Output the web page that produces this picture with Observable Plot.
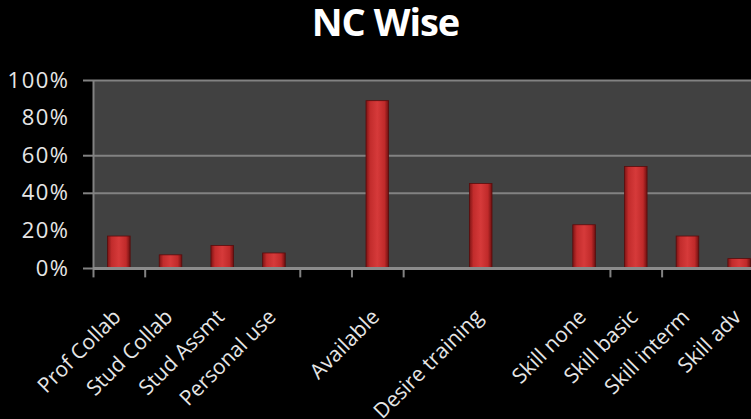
<!DOCTYPE html>
<html>
<head>
<meta charset="utf-8">
<script src="https://cdn.jsdelivr.net/npm/d3@7"></script>
<script src="https://cdn.jsdelivr.net/npm/@observablehq/plot@0.6"></script>
<style>
  html, body { margin: 0; padding: 0; background: #000; }
  #chart { width: 751px; height: 419px; overflow: hidden; background: #000; }
  #title {
    height: 50px; margin: 0; padding-top: 1px; box-sizing: border-box;
    font-family: "Open Sans", sans-serif; font-weight: 700; font-size: 38px;
    line-height: 40px; letter-spacing: -1px; color: #fff; text-align: center;
    padding-left: 20px; overflow: visible;
  }
  svg { display: block; }
  svg g[aria-label="y-axis tick label"] text { letter-spacing: 1.5px; }
</style>
</head>
<body>
<div id="chart">
  <div id="title">NC Wise</div>
</div>
<script>
// Survey categories (empty strings are spacer slots between groups)
const categories = [
  "Prof Collab", "Stud Collab", "Stud Assmt", "Personal use", "",
  "Available", "", "Desire training", "",
  "Skill none", "Skill basic", "Skill interm", "Skill adv"
];
// Share of respondents per category
const values = [0.17, 0.07, 0.12, 0.08, null, 0.89, null, 0.45, null, 0.23, 0.54, 0.17, 0.05];
// Value axis labels and the guide lines drawn across the plot
const yTickLabels = [0, 0.2, 0.4, 0.6, 0.8, 1.0];
const yGuideLines = [0.4, 0.6, 1.0];
const yTickMarks = [0, 0.4, 0.6, 1.0];
// Category boundaries that carry a tick mark below the baseline
const xBoundaryTicks = [1, 4, 5, 6, 10, 11];

const rows = categories.map((label, i) => ({i, label, value: values[i]}));
const bars = rows.filter(d => d.value != null);

const x0 = 93, x1 = 765;
const halfStep = (x1 - x0) / categories.length / 2;
const grey = "#828282";

const plot = Plot.plot({
  width: 751,
  height: 369,
  marginTop: 30,
  marginBottom: 151,
  marginLeft: 93,
  marginRight: 0,
  style: {background: "#000", fontFamily: "Open Sans, sans-serif", color: "#e6e6e6"},
  x: {type: "band", domain: d3.range(categories.length), range: [x0, x1], round: false,
      paddingInner: 0.563, paddingOuter: 0.2815, axis: null},
  y: {domain: [0, 1], axis: null, label: null},
  marks: [
    Plot.frame({fill: "#414141", stroke: null}),
    Plot.gridY(yGuideLines, {stroke: grey, strokeOpacity: 1, strokeWidth: 2}),
    Plot.axisY(yTickMarks, {tickSize: 10, text: null, label: null, stroke: grey, strokeWidth: 2}),
    Plot.axisY(yTickLabels, {tickSize: 0, tickPadding: 24, label: null, tickFormat: d3.format(".0%"),
      fontSize: 22, fill: "#e6e6e6"}),
    // left axis line plus its tick below the baseline
    Plot.ruleX([0], {x: d => d, y1: -0.05, y2: 1, dx: -halfStep, stroke: grey, strokeWidth: 2}),
    Plot.ruleX(xBoundaryTicks, {x: d => d, y1: 0, y2: -0.05, dx: -halfStep, stroke: grey, strokeWidth: 2}),
    Plot.barY(bars, {x: "i", y: "value", fill: "url(#barGrad)", stroke: "#5a0c0c", strokeWidth: 0.8}),
    Plot.tickY(bars, {x: "i", y: "value", dy: 3, stroke: "url(#capGrad)", strokeWidth: 5, insetLeft: 1, insetRight: 1}),
    Plot.ruleY([0], {stroke: "#8c8c8c", strokeWidth: 3}),
    Plot.text(rows, {x: "i", text: "label", frameAnchor: "bottom", rotate: -45,
      textAnchor: "end", lineAnchor: "middle", dx: -2, dy: 45, fontSize: 21, fill: "#e6e6e6"})
  ]
});

// Cylinder-like shading for the bars
const ns = "http://www.w3.org/2000/svg";
const defs = document.createElementNS(ns, "defs");
function gradient(id, stops) {
  const g = document.createElementNS(ns, "linearGradient");
  g.setAttribute("id", id);
  g.setAttribute("x1", "0"); g.setAttribute("x2", "1");
  g.setAttribute("y1", "0"); g.setAttribute("y2", "0");
  for (const [o, c] of stops) {
    const s = document.createElementNS(ns, "stop");
    s.setAttribute("offset", o);
    s.setAttribute("stop-color", c);
    g.appendChild(s);
  }
  defs.appendChild(g);
}
gradient("barGrad", [[0, "#7e1414"], [0.18, "#c22c2c"], [0.5, "#d63a3a"], [0.82, "#c02a2a"], [1, "#6e1010"]]);
gradient("capGrad", [[0, "#b03030"], [0.3, "#ea7a7a"], [0.5, "#f29090"], [0.7, "#ea7a7a"], [1, "#b03030"]]);
plot.insertBefore(defs, plot.firstChild);

document.getElementById("chart").appendChild(plot);
</script>
</body>
</html>
